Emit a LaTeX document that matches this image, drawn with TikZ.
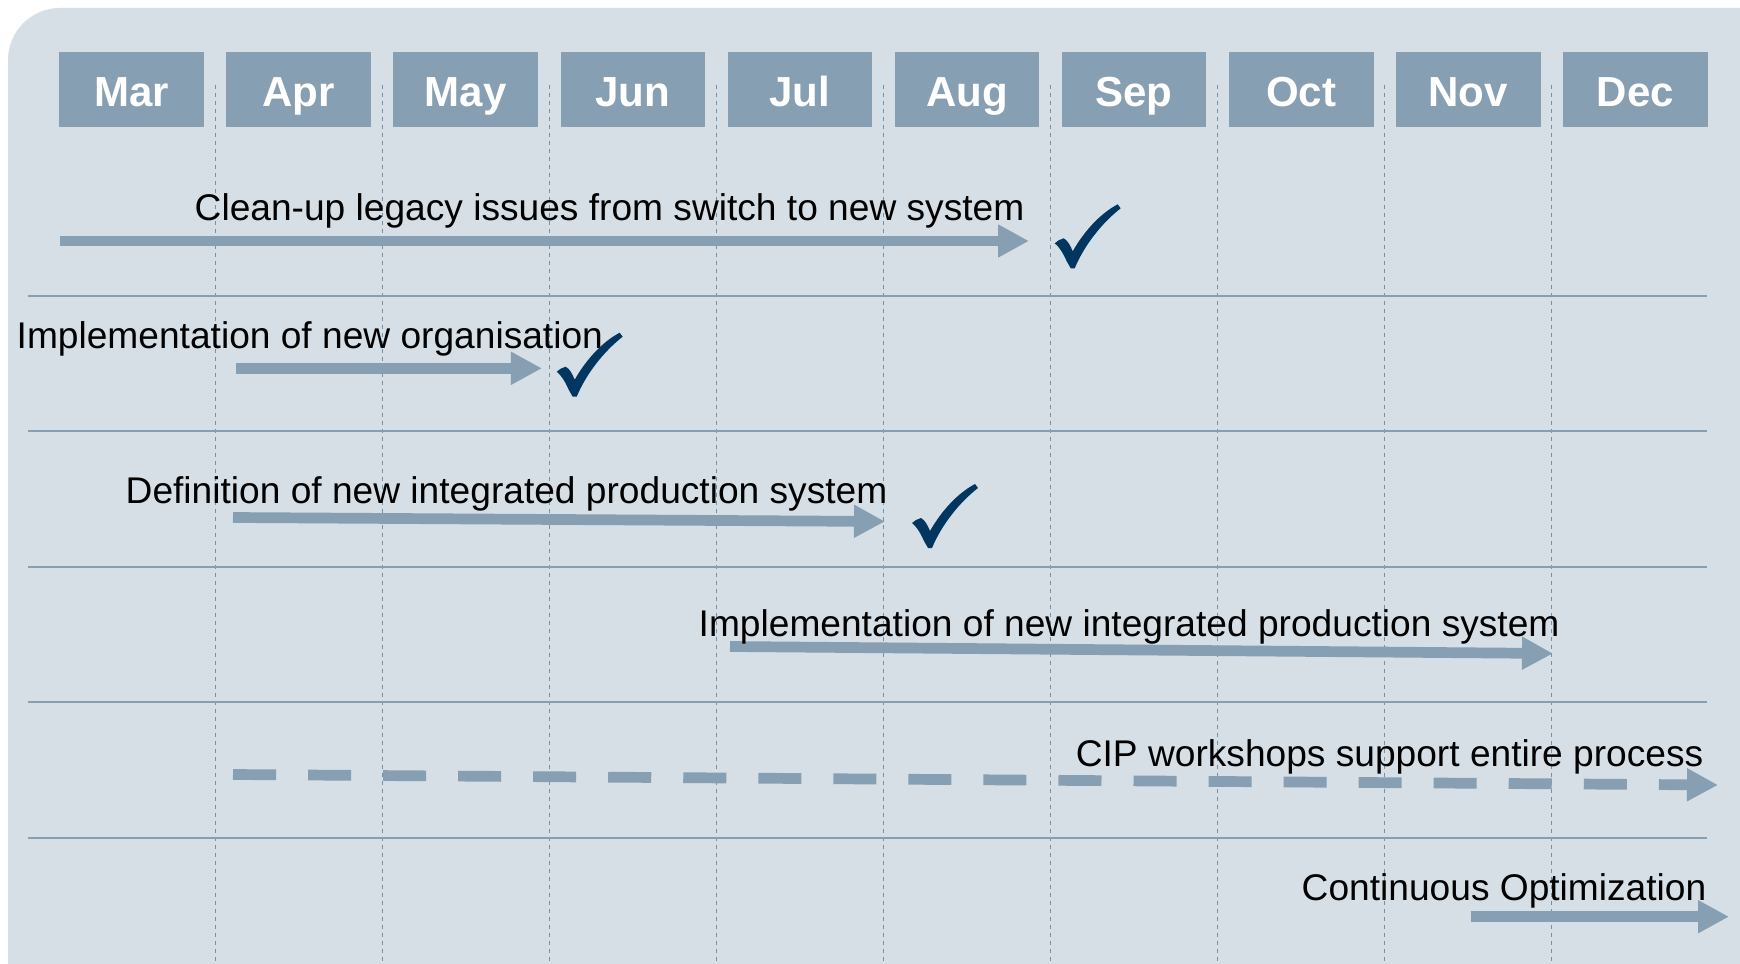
\documentclass[tikz,border=0pt]{standalone}
\usepackage{fontspec}
\setmainfont{Liberation Sans}
\usepackage{tikz}
\usetikzlibrary{arrows.meta}
\definecolor{panel}{RGB}{215,223,230}
\definecolor{slate}{RGB}{135,159,178}
\definecolor{gridc}{RGB}{118,145,166}
\definecolor{navy}{RGB}{0,54,96}
\tikzset{
   checkmark/.pic={
     \fill[navy] (0,0) -- (-4,-7) .. controls (-8,-16) and (-12,-22) .. (-16,-25)
       -- (-12,-28) -- (-7,-30) .. controls (-3,-28) and (0,-22) .. (2,-17)
       .. controls (14,-38) and (30,-55) .. (47,-64) -- (50,-60)
       .. controls (32,-46) and (14,-24) .. (4,0) -- cycle;
   },
 }

\begin{document}
\begin{tikzpicture}[x=0.01cm, y=-0.01cm,
      month/.style={fill=slate,text=white,inner sep=0,minimum width=1.445cm,minimum height=0.756cm,
        text height=0.33cm,text depth=0cm,font=\bfseries\fontsize{11.95pt}{14pt}\selectfont},
      bar/.style={-{Triangle[length=0.31cm,width=0.31cm]},line width=0.107cm,slate},
      dbar/.style={bar,dash pattern=on 0.43cm off 0.32cm},
      lbl/.style={inner sep=0,font=\fontsize{10.56pt}{12pt}\selectfont},
      sepline/.style={slate,line width=0.02cm},
      gridline/.style={gridc,line width=0.01cm,dash pattern=on 0.04cm off 0.04cm},
      ]
      \useasboundingbox (0,0) rectangle (1740,964);
      \fill[white] (0,0) rectangle (1740,964);
      \fill[panel] (8,964) -- (8,60) arc[start angle=180,end angle=270,radius=52] -- (1740,8) -- (1740,964) -- cycle;

      % month grid
      \foreach \i in {0,...,8}
        \draw[gridline] ({215+167.1*\i},85) -- ({215+167.1*\i},964);
      \foreach \y in {296.3,430.6,567,702.4,837.8}
        \draw[sepline] (27.7,\y) -- (1706.7,\y);

      \node (mar) at (131.5,89.5) [month] {Mar};
      \node (apr) at (298.6,89.5) [month] {Apr};
      \node (may) at (465.7,89.5) [month] {May};
      \node (jun) at (632.8,89.5) [month] {Jun};
      \node (jul) at (799.9,89.5) [month] {Jul};
      \node (aug) at (967.0,89.5) [month] {Aug};
      \node (sep) at (1134.1,89.5) [month] {Sep};
      \node (oct) at (1301.2,89.5) [month] {Oct};
      \node (nov) at (1468.3,89.5) [month] {Nov};
      \node (dec) at (1635.4,89.5) [month] {Dec};

      % bars
      \coordinate (a1) at (60,241);     \coordinate (b1) at (1029,241);
      \coordinate (a2) at (236,368.3);  \coordinate (b2) at (542,368.3);
      \coordinate (a3) at (233,517.5);  \coordinate (b3) at (885,521.5);
      \coordinate (a4) at (730,646.5);  \coordinate (b4) at (1553,653.5);
      \coordinate (a5) at (233,774.5);  \coordinate (b5) at (1718,785);
      \coordinate (a6) at (1471,916.7); \coordinate (b6) at (1729,916.7);
      \draw [bar] (a1) -- (b1);
      \draw [bar] (a2) -- (b2);
      \draw [bar] (a3) -- (b3);
      \draw [bar] (a4) -- (b4);
      \draw [dbar] (a5) -- (b5);
      \draw [bar] (a6) -- (b6);

      \node (t1) at (194,220.5) [lbl,anchor=base west] {Clean-up legacy issues from switch to new system};
      \node (t2) at (16,349) [lbl,anchor=base west] {Implementation of new organisation};
      \node (t3) at (125,503) [lbl,anchor=base west] {Definition of new integrated production system};
      \node (t4) at (698,636.5) [lbl,anchor=base west] {Implementation of new integrated production system};
      \node (t5) at (1704,766.5) [lbl,anchor=base east] {CIP workshops support entire process};
      \node (t6) at (1707,900) [lbl,anchor=base east] {Continuous Optimization};

      % done
      \pic (k1) at (1070.7,268.3) {checkmark};
      \pic (k2) at (572.7,396.7) {checkmark};
      \pic (k3) at (928,548) {checkmark};
    \end{tikzpicture}
\end{document}
